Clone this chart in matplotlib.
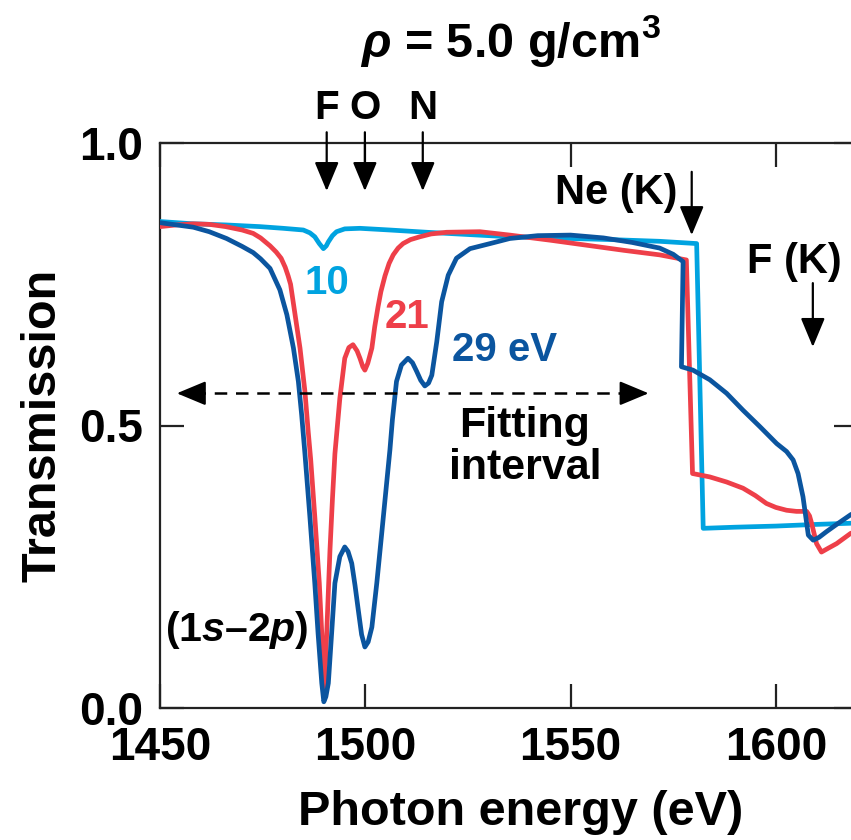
import matplotlib
matplotlib.use("Agg")
import matplotlib.pyplot as plt

plt.rcParams['font.family'] = ['Liberation Sans', 'DejaVu Sans']
plt.rcParams['font.weight'] = 'bold'
plt.rcParams['mathtext.fontset'] = 'custom'
plt.rcParams['mathtext.rm'] = 'Liberation Sans:bold'
plt.rcParams['mathtext.bf'] = 'Liberation Sans:bold'
plt.rcParams['mathtext.it'] = 'Liberation Sans:italic:bold'

# Transmission spectra for three temperatures (eV)
energy_10 = [1450, 1458, 1466, 1474.3, 1480, 1484.9, 1486.5, 1487.7, 1488.8, 1489.8,
             1490.5, 1491.0, 1492.0, 1493.0, 1495, 1498.7, 1506, 1515, 1525, 1535.2,
             1550, 1560, 1571.7, 1580.7, 1582.3, 1590, 1600, 1610, 1618.2, 1620]
trans_10 = [0.861, 0.857, 0.855, 0.852, 0.849, 0.846, 0.841, 0.834, 0.822, 0.813,
            0.818, 0.825, 0.836, 0.843, 0.848, 0.849, 0.846, 0.842, 0.838, 0.834,
            0.831, 0.829, 0.826, 0.822, 0.318, 0.320, 0.322, 0.325, 0.327, 0.328]

energy_21 = [1450, 1454, 1458, 1462, 1466, 1470, 1472.7, 1474.5, 1476.8, 1478.3,
             1479.5, 1480.5, 1481.2, 1481.8, 1482.9, 1484.1, 1485.3, 1486.1, 1486.7,
             1487.7, 1488.8, 1489.4, 1489.7, 1489.9, 1490.2, 1490.6, 1491.4, 1492.0,
             1492.6, 1493.8, 1495.0, 1496.0, 1497.0, 1498.0, 1498.7, 1499.4, 1499.9,
             1500.6, 1501.6, 1502.3, 1503.1, 1503.8, 1504.8, 1505.8, 1506.8, 1508.0,
             1509.2, 1511.0, 1513.3, 1516.0, 1519.8, 1527.9, 1535.2, 1545, 1555, 1563,
             1571.7, 1578.2, 1579.7, 1583.9, 1588, 1592.0, 1595, 1597.7, 1600, 1602.6,
             1605, 1607.5, 1608.2, 1608.7, 1609.9, 1611.1, 1612.8, 1614.8, 1618.2, 1620]
trans_21 = [0.852, 0.855, 0.857, 0.856, 0.852, 0.846, 0.840, 0.832, 0.818, 0.807,
            0.796, 0.780, 0.765, 0.750, 0.696, 0.637, 0.560, 0.489, 0.440,
            0.339, 0.221, 0.132, 0.070, 0.030, 0.060, 0.132, 0.280, 0.370,
            0.450, 0.548, 0.619, 0.638, 0.643, 0.632, 0.619, 0.604, 0.598,
            0.610, 0.637, 0.675, 0.710, 0.737, 0.765, 0.787, 0.802, 0.814,
            0.822, 0.829, 0.834, 0.839, 0.842, 0.843, 0.837, 0.828, 0.818, 0.810,
            0.802, 0.793, 0.415, 0.409, 0.400, 0.389, 0.376, 0.362, 0.355, 0.350,
            0.348, 0.348, 0.340, 0.327, 0.291, 0.276, 0.283, 0.291, 0.309, 0.314]

energy_29 = [1450, 1454, 1458.1, 1462, 1466.2, 1470, 1472.7, 1474.5, 1476.8, 1479.2,
             1480.9, 1482.5, 1483.7, 1484.5, 1485.3, 1486.5, 1487.7, 1488.5, 1489.4,
             1489.9, 1490.4, 1491.0, 1491.8, 1492.6, 1493.8, 1495.0, 1495.8, 1496.7,
             1497.5, 1498.3, 1499.1, 1499.9, 1500.7, 1501.6, 1502.8, 1504.0, 1505.2,
             1506.0, 1506.6, 1507.6, 1508.8, 1510.4, 1511.5, 1512.5, 1513.5, 1514.5,
             1515.4, 1516.2, 1517.4, 1518.6, 1520.2, 1522.2, 1525.5, 1530.4, 1535.2,
             1542, 1550, 1558, 1565, 1571.7, 1575, 1577.4, 1577.0, 1579.8, 1583.9,
             1588.0, 1592.0, 1596.1, 1600.2, 1602.6, 1604.2, 1605.4, 1606.6, 1607.5,
             1607.9, 1609.1, 1610.5, 1612.3, 1615, 1618.2, 1620]
trans_29 = [0.859, 0.855, 0.851, 0.843, 0.831, 0.817, 0.806, 0.795, 0.778, 0.740,
            0.696, 0.637, 0.578, 0.519, 0.450, 0.339, 0.221, 0.132, 0.044,
            0.011, 0.020, 0.044, 0.132, 0.221, 0.268, 0.285, 0.277, 0.256,
            0.217, 0.173, 0.130, 0.108, 0.117, 0.143, 0.221, 0.309, 0.398,
            0.457, 0.510, 0.578, 0.607, 0.619, 0.611, 0.596, 0.580, 0.570,
            0.575, 0.589, 0.648, 0.719, 0.766, 0.796, 0.813, 0.822, 0.831,
            0.836, 0.837, 0.832, 0.824, 0.814, 0.803, 0.790, 0.604, 0.598, 0.581,
            0.557, 0.527, 0.498, 0.468, 0.454, 0.439, 0.415, 0.374, 0.327,
            0.306, 0.297, 0.302, 0.312, 0.326, 0.342, 0.349]

series_labels = ["10", "21", "29 eV"]
series_colors = ["#00A3E0", "#EE3F49", "#0B559F"]

# Ion line positions (1s-2p) and K edges
ion_names = ["F", "O", "N"]
ion_energy = [1490.6, 1499.9, 1514.0]
edge_names = ["Ne (K)", "F (K)"]
edge_energy = [1579.5, 1609.0]

x_ticks = [1450, 1500, 1550, 1600]
y_ticks = [0.0, 0.5, 1.0]
y_ticklabels = ["0.0", "0.5", "1.0"]

fig = plt.figure(figsize=(8.51, 8.40), dpi=100)
ax = fig.add_axes([160 / 851, 132 / 840, 698 / 851, 565 / 840])

lw = 3.4
ax.plot(energy_10, trans_10, color=series_colors[0], lw=lw, solid_joinstyle='round', zorder=3)
ax.plot(energy_21, trans_21, color=series_colors[1], lw=lw, solid_joinstyle='round', zorder=4)
ax.plot(energy_29, trans_29, color=series_colors[2], lw=lw, solid_joinstyle='round', zorder=5)

ax.set_xlim(1450, 1620)
ax.set_ylim(0, 1.0)
ax.set_xticks(x_ticks)
ax.set_yticks(y_ticks)
ax.set_yticklabels(y_ticklabels)
ax.tick_params(direction='in', length=17, width=1.6, top=True, right=True,
               labelsize=33, color='#222222')
ax.tick_params(axis='x', pad=13)
ax.tick_params(axis='y', pad=12)
for lab in ax.get_xticklabels() + ax.get_yticklabels():
    lab.set_fontweight('bold')
for sp in ax.spines.values():
    sp.set_linewidth(1.6)
    sp.set_color('#222222')

ax.set_xlabel("Photon energy (eV)", fontsize=35, fontweight='bold')
ax.xaxis.set_label_coords(0.516, -0.146)
ax.set_ylabel("Transmission", fontsize=35, fontweight='bold', labelpad=10)

fig.text(510 / 851, 1 - 41 / 840, r"$\rho$ = 5.0 g/cm$^3$", fontsize=35,
         fontweight='bold', ha='center', va='center')

head = dict(arrowstyle='-|>,head_length=1.8,head_width=0.75', color='black',
            lw=1.6, shrinkA=0, shrinkB=0, mutation_scale=10)

for name, e in zip(ion_names, ion_energy):
    ax.text(e, 1.062, name, fontsize=29, fontweight='bold', ha='center', va='center',
            clip_on=False)
    ax.annotate('', xy=(e, 0.915), xytext=(e, 1.019), arrowprops=head,
                annotation_clip=False)

ax.text(1561, 0.912, edge_names[0], fontsize=30, fontweight='bold', ha='center', va='center')
ax.annotate('', xy=(edge_energy[0], 0.837), xytext=(edge_energy[0], 0.949), arrowprops=head)
ax.text(1604.4, 0.789, edge_names[1], fontsize=30, fontweight='bold', ha='center', va='center')
ax.annotate('', xy=(edge_energy[1], 0.639), xytext=(edge_energy[1], 0.752), arrowprops=head)

ax.text(1490.7, 0.752, series_labels[0], color=series_colors[0], fontsize=29,
        fontweight='bold', ha='center', va='center')
ax.text(1510.1, 0.692, series_labels[1], color=series_colors[1], fontsize=29,
        fontweight='bold', ha='center', va='center')
ax.text(1521.1, 0.634, series_labels[2], color=series_colors[2], fontsize=29,
        fontweight='bold', ha='left', va='center')

# Fitting interval marker
fit_lo, fit_hi, fit_y = 1454.1, 1569.0, 0.557
ax.plot([fit_lo + 4, fit_hi - 4], [fit_y, fit_y], color='black', lw=1.8,
        dashes=(5, 3.5), zorder=6)
ax.annotate('', xy=(fit_lo, fit_y), xytext=(fit_lo + 5, fit_y), arrowprops=head, zorder=6)
ax.annotate('', xy=(fit_hi, fit_y), xytext=(fit_hi - 5, fit_y), arrowprops=head, zorder=6)
ax.text(1538.9, 0.462, "Fitting\ninterval", fontsize=31, fontweight='bold',
        ha='center', va='center', linespacing=1.05)

ax.text(1468.7, 0.138, r"(1$s$–2$p$)", fontsize=29.5, fontweight='bold',
        ha='center', va='center')

fig.savefig("out.png", dpi=100)
